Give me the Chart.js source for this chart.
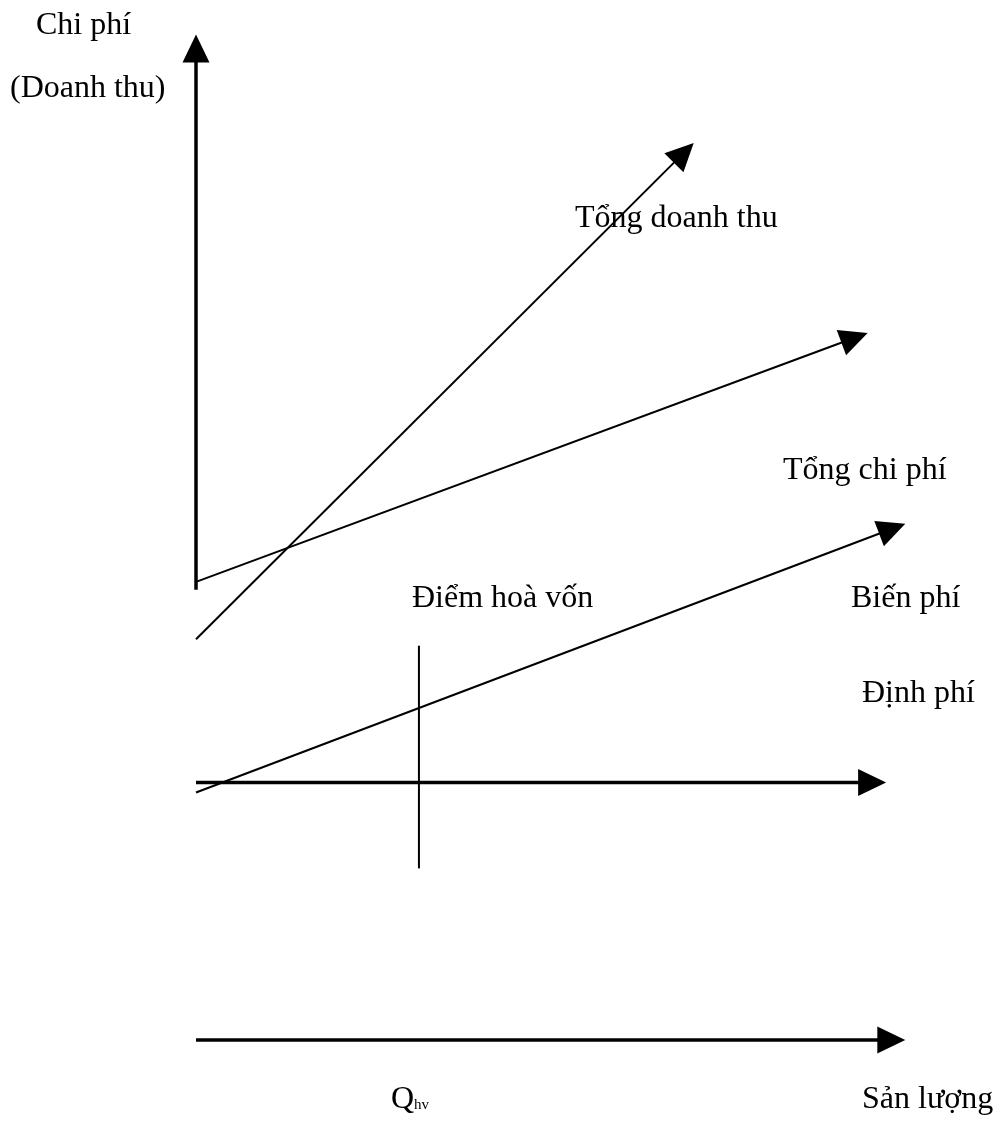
<!DOCTYPE html>
<html><head><meta charset="utf-8">
<script src="https://cdn.jsdelivr.net/npm/chart.js@4.4.1/dist/chart.umd.min.js"></script>
<style>html,body{margin:0;padding:0;background:#fff}#wrap{width:1007px;height:1122px;position:relative}</style>
</head><body><div id="wrap"><canvas id="c" width="1007" height="1122"></canvas></div>
<script>
// Data units: x = output quantity (Sản lượng), y = cost / revenue
const revenueX = [0, 7.01];
const revenueY = [5.65, 12.65];
const totalCostX = [0, 9.46];
const totalCostY = [6.46, 9.97];
const variableCostX = [0, 9.99];
const variableCostY = [3.49, 7.28];
const fixedCostX = [0, 9.72];
const fixedCostY = [3.63, 3.63];
const breakEvenX = [3.14, 3.14];
const breakEvenY = [2.42, 5.56];
const costAxisX = [0, 0];
const costAxisY = [6.35, 14.18];
const qtyAxisX = [0, 9.99];
const qtyAxisY = [0, 0];

const textLabels = ["Chi phí", "(Doanh thu)", "Tổng doanh thu", "Tổng chi phí", "Biến phí", "Điểm hoà vốn", "Định phí", "Sản lượng"];
const qLabel = "Q";
const qSub = "hv";

function pts(xs, ys) { return xs.map((x, i) => ({ x: x, y: ys[i] })); }

function ds(xs, ys, width, arrow) {
  return {
    data: pts(xs, ys), showLine: true, borderColor: '#000', backgroundColor: '#000',
    borderWidth: width, pointRadius: 0, tension: 0, clip: false, arrow: arrow,
    borderCapStyle: 'butt'
  };
}

const HEAD_L = 28, HEAD_H = 13.5;

const arrowPlugin = {
  id: 'arrows',
  beforeDatasetDraw(chart, args) {
    const d = chart.data.datasets[args.index];
    if (!d.arrow) return;
    const m = args.meta.data;
    const a = m[m.length - 2], b = m[m.length - 1];
    const ang = Math.atan2(b.y - a.y, b.x - a.x);
    args.meta._tip = { x: b.x, y: b.y, ang: ang };
    b.x = b.x - (HEAD_L - 4) * Math.cos(ang);
    b.y = b.y - (HEAD_L - 4) * Math.sin(ang);
    if (args.meta.dataset) args.meta.dataset._path = undefined;
  },
  afterDatasetDraw(chart, args) {
    const d = chart.data.datasets[args.index];
    if (!d.arrow || !args.meta._tip) return;
    const m = args.meta.data;
    const b = m[m.length - 1];
    const t = args.meta._tip;
    b.x = t.x; b.y = t.y;
    const ang = t.ang;
    const ctx = chart.ctx;
    const bx = t.x - HEAD_L * Math.cos(ang), by = t.y - HEAD_L * Math.sin(ang);
    ctx.save();
    ctx.fillStyle = '#000';
    ctx.beginPath();
    ctx.moveTo(t.x, t.y);
    ctx.lineTo(bx + HEAD_H * Math.sin(ang), by - HEAD_H * Math.cos(ang));
    ctx.lineTo(bx - HEAD_H * Math.sin(ang), by + HEAD_H * Math.cos(ang));
    ctx.closePath();
    ctx.fill();
    ctx.restore();
  }
};

const textPlugin = {
  id: 'texts',
  afterDraw(chart) {
    const ctx = chart.ctx;
    const xs = chart.scales.x;
    ctx.save();
    ctx.fillStyle = '#000';
    ctx.textBaseline = 'alphabetic';
    ctx.textAlign = 'left';
    ctx.font = '32px "Liberation Serif", "Times New Roman", serif';
    const pos = [[36, 34], [10, 97], [575, 227], [783, 479], [851, 607], [412, 607], [862, 702], [862, 1108]];
    textLabels.forEach((t, i) => ctx.fillText(t, pos[i][0], pos[i][1]));
    const qx = xs.getPixelForValue(breakEvenX[0]) - 28;
    ctx.fillText(qLabel, qx, 1108);
    const qw = ctx.measureText(qLabel).width;
    ctx.font = '15px "Liberation Serif", "Times New Roman", serif';
    ctx.fillText(qSub, qx + qw, 1109);
    ctx.restore();
  }
};

new Chart(document.getElementById('c'), {
  type: 'scatter',
  data: {
    datasets: [
      ds(costAxisX, costAxisY, 3.5, true),
      ds(qtyAxisX, qtyAxisY, 3.5, true),
      ds(fixedCostX, fixedCostY, 3.5, true),
      ds(revenueX, revenueY, 2, true),
      ds(totalCostX, totalCostY, 2, true),
      ds(variableCostX, variableCostY, 2, true),
      ds(breakEvenX, breakEvenY, 2, false)
    ]
  },
  options: {
    responsive: false,
    animation: false,
    devicePixelRatio: 1,
    layout: { padding: { left: 196, right: 101, top: 33, bottom: 82 } },
    scales: {
      x: { type: 'linear', min: 0, max: 10, display: false },
      y: { type: 'linear', min: 0, max: 14.2, display: false }
    },
    plugins: { legend: { display: false }, tooltip: { enabled: false } }
  },
  plugins: [arrowPlugin, textPlugin]
});
</script></body></html>
